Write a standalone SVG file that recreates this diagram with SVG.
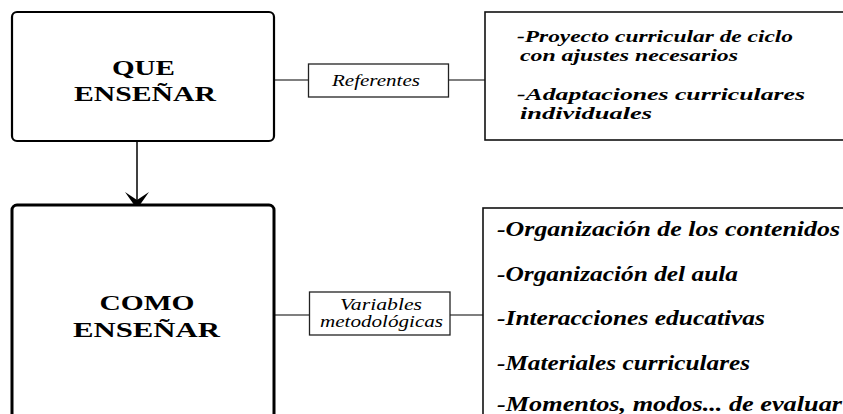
<svg xmlns="http://www.w3.org/2000/svg" width="843" height="414" viewBox="0 0 843 414">
<style>
.title{font-family:"Liberation Serif","Times New Roman",serif;font-weight:bold;font-size:21px;fill:#000}
.lbl{font-family:"Liberation Serif","Times New Roman",serif;font-style:italic;font-size:16px;fill:#000}
.item{font-family:"Liberation Serif","Times New Roman",serif;font-style:italic;font-weight:bold;font-size:17px;fill:#000}
.item2{font-family:"Liberation Serif","Times New Roman",serif;font-style:italic;font-weight:bold;font-size:20px;fill:#000}
.conn{stroke:#555;stroke-width:1.5;fill:none}
.lbox{fill:#fff;stroke:#222;stroke-width:1.3}
.rbox{fill:#fff;stroke:#111;stroke-width:1.6}
</style>
<rect width="843" height="414" fill="#fff"/>
<g id="connectors">
<line class="conn" x1="274" y1="80" x2="485" y2="80"/>
<line class="conn" x1="274" y1="315" x2="483" y2="315"/>
<line x1="137" y1="141" x2="137" y2="202" stroke="#000" stroke-width="1.5"/>
<polygon points="137,209 125,192 137,200 149,192" fill="#000"/>
</g>
<g id="que">
<rect x="12" y="12" width="262" height="129" rx="5" fill="#fff" stroke="#000" stroke-width="2.2"/>
<text class="title" x="143.5" y="75" text-anchor="middle" textLength="63" lengthAdjust="spacingAndGlyphs">QUE</text>
<text class="title" x="145" y="101" text-anchor="middle" textLength="142" lengthAdjust="spacingAndGlyphs">ENSEÑAR</text>
</g>
<g id="como">
<rect x="12" y="205" width="262" height="230" rx="5" fill="#fff" stroke="#000" stroke-width="3"/>
<text class="title" x="147" y="310" text-anchor="middle" textLength="95" lengthAdjust="spacingAndGlyphs">COMO</text>
<text class="title" x="146.5" y="336.5" text-anchor="middle" textLength="147" lengthAdjust="spacingAndGlyphs">ENSEÑAR</text>
</g>
<g id="referentes">
<rect class="lbox" x="308.5" y="64" width="140" height="33"/>
<text class="lbl" x="376" y="86" text-anchor="middle" textLength="88" lengthAdjust="spacingAndGlyphs">Referentes</text>
</g>
<g id="variables">
<rect class="lbox" x="309.5" y="292" width="140.5" height="43"/>
<text class="lbl" x="381" y="310" text-anchor="middle" textLength="82" lengthAdjust="spacingAndGlyphs">Variables</text>
<text class="lbl" x="381.5" y="327" text-anchor="middle" textLength="123" lengthAdjust="spacingAndGlyphs">metodológicas</text>
</g>
<g id="referentes-list">
<rect class="rbox" x="485" y="12" width="370" height="128"/>
<text class="item" x="517" y="42" textLength="276" lengthAdjust="spacingAndGlyphs">-Proyecto curricular de ciclo</text>
<text class="item" x="520" y="61" textLength="218" lengthAdjust="spacingAndGlyphs">con ajustes necesarios</text>
<text class="item" x="517" y="100" textLength="288" lengthAdjust="spacingAndGlyphs">-Adaptaciones curriculares</text>
<text class="item" x="520" y="119" textLength="132" lengthAdjust="spacingAndGlyphs">individuales</text>
</g>
<g id="variables-list">
<rect class="rbox" x="483" y="208" width="370" height="230"/>
<text class="item2" x="497" y="236" textLength="343" lengthAdjust="spacingAndGlyphs">-Organización de los contenidos</text>
<text class="item2" x="497" y="280.5" textLength="241" lengthAdjust="spacingAndGlyphs">-Organización del aula</text>
<text class="item2" x="497" y="325" textLength="268" lengthAdjust="spacingAndGlyphs">-Interacciones educativas</text>
<text class="item2" x="497" y="369.5" textLength="253" lengthAdjust="spacingAndGlyphs">-Materiales curriculares</text>
<text class="item2" x="497" y="411" textLength="345" lengthAdjust="spacingAndGlyphs">-Momentos, modos... de evaluar</text>
</g>
</svg>
